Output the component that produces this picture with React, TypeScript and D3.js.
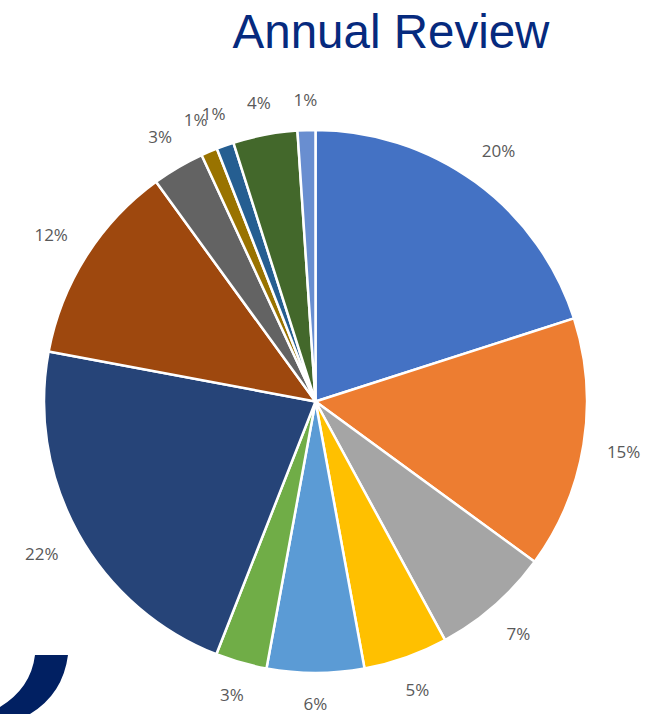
import React from "react";
import * as d3 from "d3";

const categories = [
  "Category 1", "Category 2", "Category 3", "Category 4", "Category 5",
  "Category 6", "Category 7", "Category 8", "Category 9", "Category 10",
  "Category 11", "Category 12", "Category 13",
];
const values = [20.05, 15, 7.03, 5.03, 5.78, 3.06, 22, 12.06, 3.1, 0.97, 1.03, 3.83, 1.06];
const colors = [
  "#4472C4", "#ED7D31", "#A5A5A5", "#FFC000", "#5B9BD5", "#70AD47",
  "#264478", "#9E480E", "#636363", "#997300", "#255E91", "#43682B", "#698ED0",
];
const title = "Annual Review";

const W = 653;
const H = 714;

export default function App() {
  const cx = 315.5;
  const cy = 401.5;
  const r = 271.5;
  const total = d3.sum(values);
  const data = categories.map((c, i) => ({ c, v: values[i], color: colors[i] }));
  const pie = d3.pie<any>().value((d) => d.v).sort(null);
  const arcs = pie(data);
  const arcGen = d3.arc<any>().innerRadius(0).outerRadius(r);
  const fmt = d3.format(".0%");

  return (
    <svg width={W} height={H} style={{ position: "fixed", left: 0, top: 0 }}>
      <rect width={W} height={H} fill="#ffffff" />
      <text
        x={391}
        y={48}
        textAnchor="middle"
        fontFamily="'Liberation Sans', Arial, sans-serif"
        fontSize={47.5}
        fill="#062A7E"
      >
        {title}
      </text>
      <g transform={`translate(${cx},${cy})`}>
        {arcs.map((a, i) => (
          <path key={i} d={arcGen(a) as string} fill={a.data.color} stroke="#ffffff" strokeWidth={2.5} strokeLinejoin="round" />
        ))}
        {arcs.map((a, i) => {
          const mid = (a.startAngle + a.endAngle) / 2;
          const ux = Math.sin(mid);
          const uy = -Math.cos(mid);
          const label = fmt(a.data.v / total);
          const hw = ((label.length - 1) * 10 + 15) / 2;
          const hh = 8.5;
          const dist = r + 22 + Math.abs(ux) * hw + Math.abs(uy) * hh;
          return (
            <text
              key={"l" + i}
              x={ux * dist}
              y={uy * dist}
              textAnchor="middle"
              dominantBaseline="central"
              fontFamily="'Open Sans', sans-serif"
              fontSize={17}
              fill="#595959"
            >
              {label}
            </text>
          );
        })}
      </g>
      <path d="M35,655 L68,655 Q63,694 30,714 L0,714 L0,707 Q31,688 35,655 Z" fill="#012062" />
    </svg>
  );
}
